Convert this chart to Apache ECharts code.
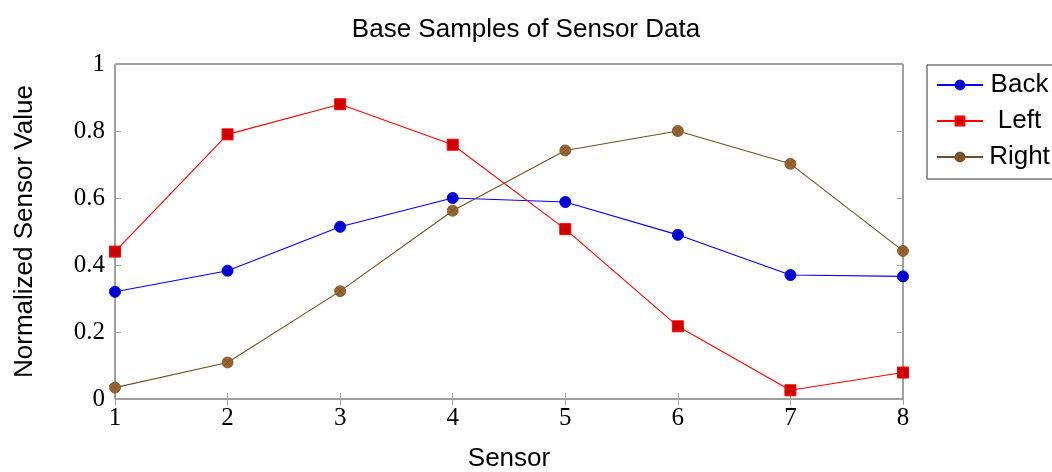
<!DOCTYPE html>
<html>
<head>
<meta charset="utf-8">
<script src="https://cdn.jsdelivr.net/npm/echarts@6/dist/echarts.min.js"></script>
<style>
  html, body { margin: 0; padding: 0; background: #ffffff; }
  #chart { width: 1052px; height: 472px; }
</style>
</head>
<body>
<div id="chart"></div>
<script>
const titleText = "Base Samples of Sensor Data";
const xAxisName = "Sensor";
const yAxisName = "Normalized Sensor Value";
const sensors = [1, 2, 3, 4, 5, 6, 7, 8];
const seriesNames = ["Back", "Left", "Right"];
const backValues = [0.320, 0.383, 0.514, 0.600, 0.588, 0.490, 0.370, 0.366];
const leftValues = [0.440, 0.790, 0.880, 0.759, 0.507, 0.217, 0.026, 0.079];
const rightValues = [0.034, 0.109, 0.322, 0.562, 0.742, 0.800, 0.702, 0.442];

const sans = "Liberation Sans";
const serif = "Liberation Serif";

function pairs(vals) { return sensors.map((s, i) => [s, vals[i]]); }

const otimesPath = 'path://M0,-1 A1,1 0 1,1 0,1 A1,1 0 1,1 0,-1 Z M-0.7071,-0.7071 L0.7071,0.7071 M0.7071,-0.7071 L-0.7071,0.7071';

const tickStyle = { show: true, inside: true, length: 6, lineStyle: { color: '#a0a0a0', width: 1 } };

const chart = echarts.init(document.getElementById('chart'), null, { renderer: 'canvas' });
chart.setOption({
  animation: false,
  backgroundColor: '#ffffff',
  title: {
    text: titleText, left: 'center', top: 12,
    textStyle: { fontFamily: sans, fontSize: 26, fontWeight: 'normal', color: '#000' }
  },
  grid: { left: 115, right: 149, top: 64, bottom: 73, outerBoundsMode: 'none', containLabel: false, show: true, borderColor: '#404040', borderWidth: 1, backgroundColor: 'transparent' },
  legend: {
    orient: 'vertical', left: 927, top: 65,
    padding: [7, 16, 9, 9], itemGap: 10, itemWidth: 46, itemHeight: 11,
    borderColor: '#333', borderWidth: 1, borderRadius: 0,
    data: seriesNames,
    formatter: '{t|{name}}',
    textStyle: { rich: { t: { fontFamily: sans, fontSize: 26, color: '#000', width: 63, align: 'center', lineHeight: 26 } } }
  },
  xAxis: [{
    type: 'value', min: 1, max: 8, interval: 1, position: 'bottom',
    name: xAxisName, nameLocation: 'middle', nameGap: 47,
    nameTextStyle: { fontFamily: sans, fontSize: 26, color: '#000' },
    axisLine: { show: false }, splitLine: { show: false }, axisTick: tickStyle,
    axisLabel: { fontFamily: serif, fontSize: 25, color: '#000', margin: 7 }
  }, {
    type: 'value', min: 1, max: 8, interval: 1, position: 'top',
    axisLine: { show: false }, splitLine: { show: false }, axisTick: tickStyle,
    axisLabel: { show: false }
  }],
  yAxis: [{
    type: 'value', min: 0, max: 1, interval: 0.2, position: 'left',
    name: yAxisName, nameLocation: 'middle', nameGap: 77,
    nameTextStyle: { fontFamily: sans, fontSize: 26, color: '#000' },
    axisLine: { show: false }, splitLine: { show: false }, axisTick: tickStyle,
    axisLabel: { fontFamily: serif, fontSize: 25, color: '#000', margin: 10 }
  }, {
    type: 'value', min: 0, max: 1, interval: 0.2, position: 'right',
    axisLine: { show: false }, splitLine: { show: false }, axisTick: tickStyle,
    axisLabel: { show: false }
  }],
  series: [{
    name: seriesNames[0], type: 'line', data: pairs(backValues),
    symbol: 'circle', symbolSize: 11, clip: false,
    lineStyle: { color: '#0000ff', width: 1.1 },
    itemStyle: { color: '#0000cc', borderColor: '#0000ff', borderWidth: 1 }
  }, {
    name: seriesNames[1], type: 'line', data: pairs(leftValues),
    symbol: 'rect', symbolSize: 11, clip: false,
    lineStyle: { color: '#ff0000', width: 1.1 },
    itemStyle: { color: '#cc0000', borderColor: '#ff0000', borderWidth: 1 }
  }, {
    name: seriesNames[2], type: 'line', data: pairs(rightValues),
    symbol: otimesPath, symbolSize: 11, clip: false,
    lineStyle: { color: '#734d26', width: 1.1 },
    itemStyle: { color: '#996633', borderColor: '#734d26', borderWidth: 0.8 }
  }]
});
</script>
</body>
</html>
